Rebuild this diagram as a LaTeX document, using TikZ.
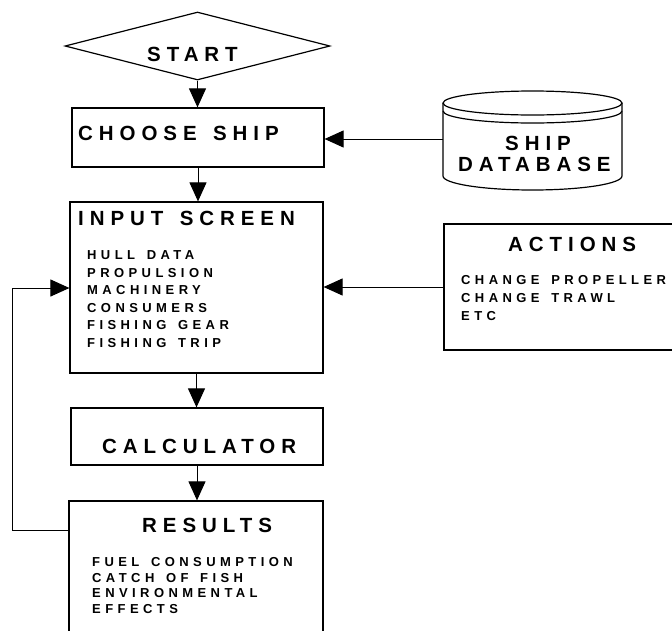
\documentclass[tikz,border=0pt]{standalone}
\usepackage{fontspec}
\setmainfont{Liberation Sans}
\newfontfamily\ttlfont{Liberation Sans}[LetterSpace=29,WordSpace=1.4]
\newfontfamily\itmfont{Liberation Sans}[LetterSpace=34,WordSpace=1.45]
\usetikzlibrary{arrows.meta,shapes.geometric}
\begin{document}
\begin{tikzpicture}[x=1pt,y=-1pt,
  box/.style={draw,line width=1.2pt,inner sep=0pt},
  ttl/.style={font=\ttlfont\bfseries\fontsize{20.5}{24}\selectfont,inner sep=0pt,anchor=base west},
  itm/.style={font=\itmfont\bfseries\fontsize{13}{15}\selectfont,inner sep=0pt,anchor=base west},
  arr/.style={line width=1pt,-{Triangle[length=19pt,width=17pt]}}]
\useasboundingbox (0,0) rectangle (672,630);
\clip (0,0) rectangle (672,630);
% shapes
\node[box,diamond,minimum width=265pt,minimum height=68pt] (start) at (197.5,46) {};
\node[box,minimum width=252pt,minimum height=59pt] (choose) at (198,137.5) {};
\node[box,minimum width=253pt,minimum height=171pt] (input) at (196.5,287.5) {};
\node[box,minimum width=252pt,minimum height=57pt] (calc) at (197,436.5) {};
\node[box,minimum width=254pt,minimum height=158pt] (results) at (196,580) {};
\node[box,minimum width=256pt,minimum height=126pt] (actions) at (572,287) {};
% database cylinder
\begin{scope}[line width=1.2pt]
\draw (532.5,103) ellipse [x radius=89.5pt, y radius=12pt];
\draw (443,111) arc[start angle=180,end angle=360,x radius=89.5pt,y radius=12pt];
\draw (443,103) -- (443,176) arc[start angle=180,end angle=360,x radius=89.5pt,y radius=14pt] -- (622,103);
\end{scope}
\coordinate (dbw) at (443,139);
% texts
\node[ttl] (tstart) at (147,61) {START};
\node[ttl] (tchoose) at (78,140) {CHOOSE SHIP};
\node[ttl] (tship) at (505,150) {SHIP};
\node[ttl] (tdb) at (458,171) {DATABASE};
\node[ttl] (tinput) at (78,225) {INPUT SCREEN};
\node[itm] (i1) at (87,259) {HULL DATA};
\node[itm] (i2) at (87,277) {PROPULSION};
\node[itm] (i3) at (87,294) {MACHINERY};
\node[itm] (i4) at (87,312) {CONSUMERS};
\node[itm] (i5) at (87,329) {FISHING GEAR};
\node[itm] (i6) at (87,347) {FISHING TRIP};
\node[ttl] (tactions) at (508,251) {ACTIONS};
\node[itm] (a1) at (461,284) {CHANGE PROPELLER};
\node[itm] (a2) at (461,302) {CHANGE TRAWL};
\node[itm] (a3) at (461,320) {ETC};
\node[ttl] (tcalc) at (102,453) {CALCULATOR};
\node[ttl] (tres) at (142,532) {RESULTS};
\node[itm] (r1) at (92,566) {FUEL CONSUMPTION};
\node[itm] (r2) at (92,582) {CATCH OF FISH};
\node[itm] (r3) at (92,597) {ENVIRONMENTAL};
\node[itm] (r4) at (92,613) {EFFECTS};
% connectors
\draw[arr] (start.south) -- (start.south |- choose.north);
\draw[arr] (dbw) -- (dbw -| choose.east);
\draw[arr] (choose.south) -- (choose.south |- input.north);
\draw[arr] (actions.west) -- (actions.west -| input.east);
\draw[arr] (input.south) -- (input.south |- calc.north);
\draw[arr] (calc.south) -- (calc.south |- results.north);
\coordinate (fb1) at (12,530);
\coordinate (fb2) at (12,288);
\draw[arr] (fb1 -| results.west) -- (fb1) -- (fb2) -- (fb2 -| input.west);
\end{tikzpicture}
\end{document}
